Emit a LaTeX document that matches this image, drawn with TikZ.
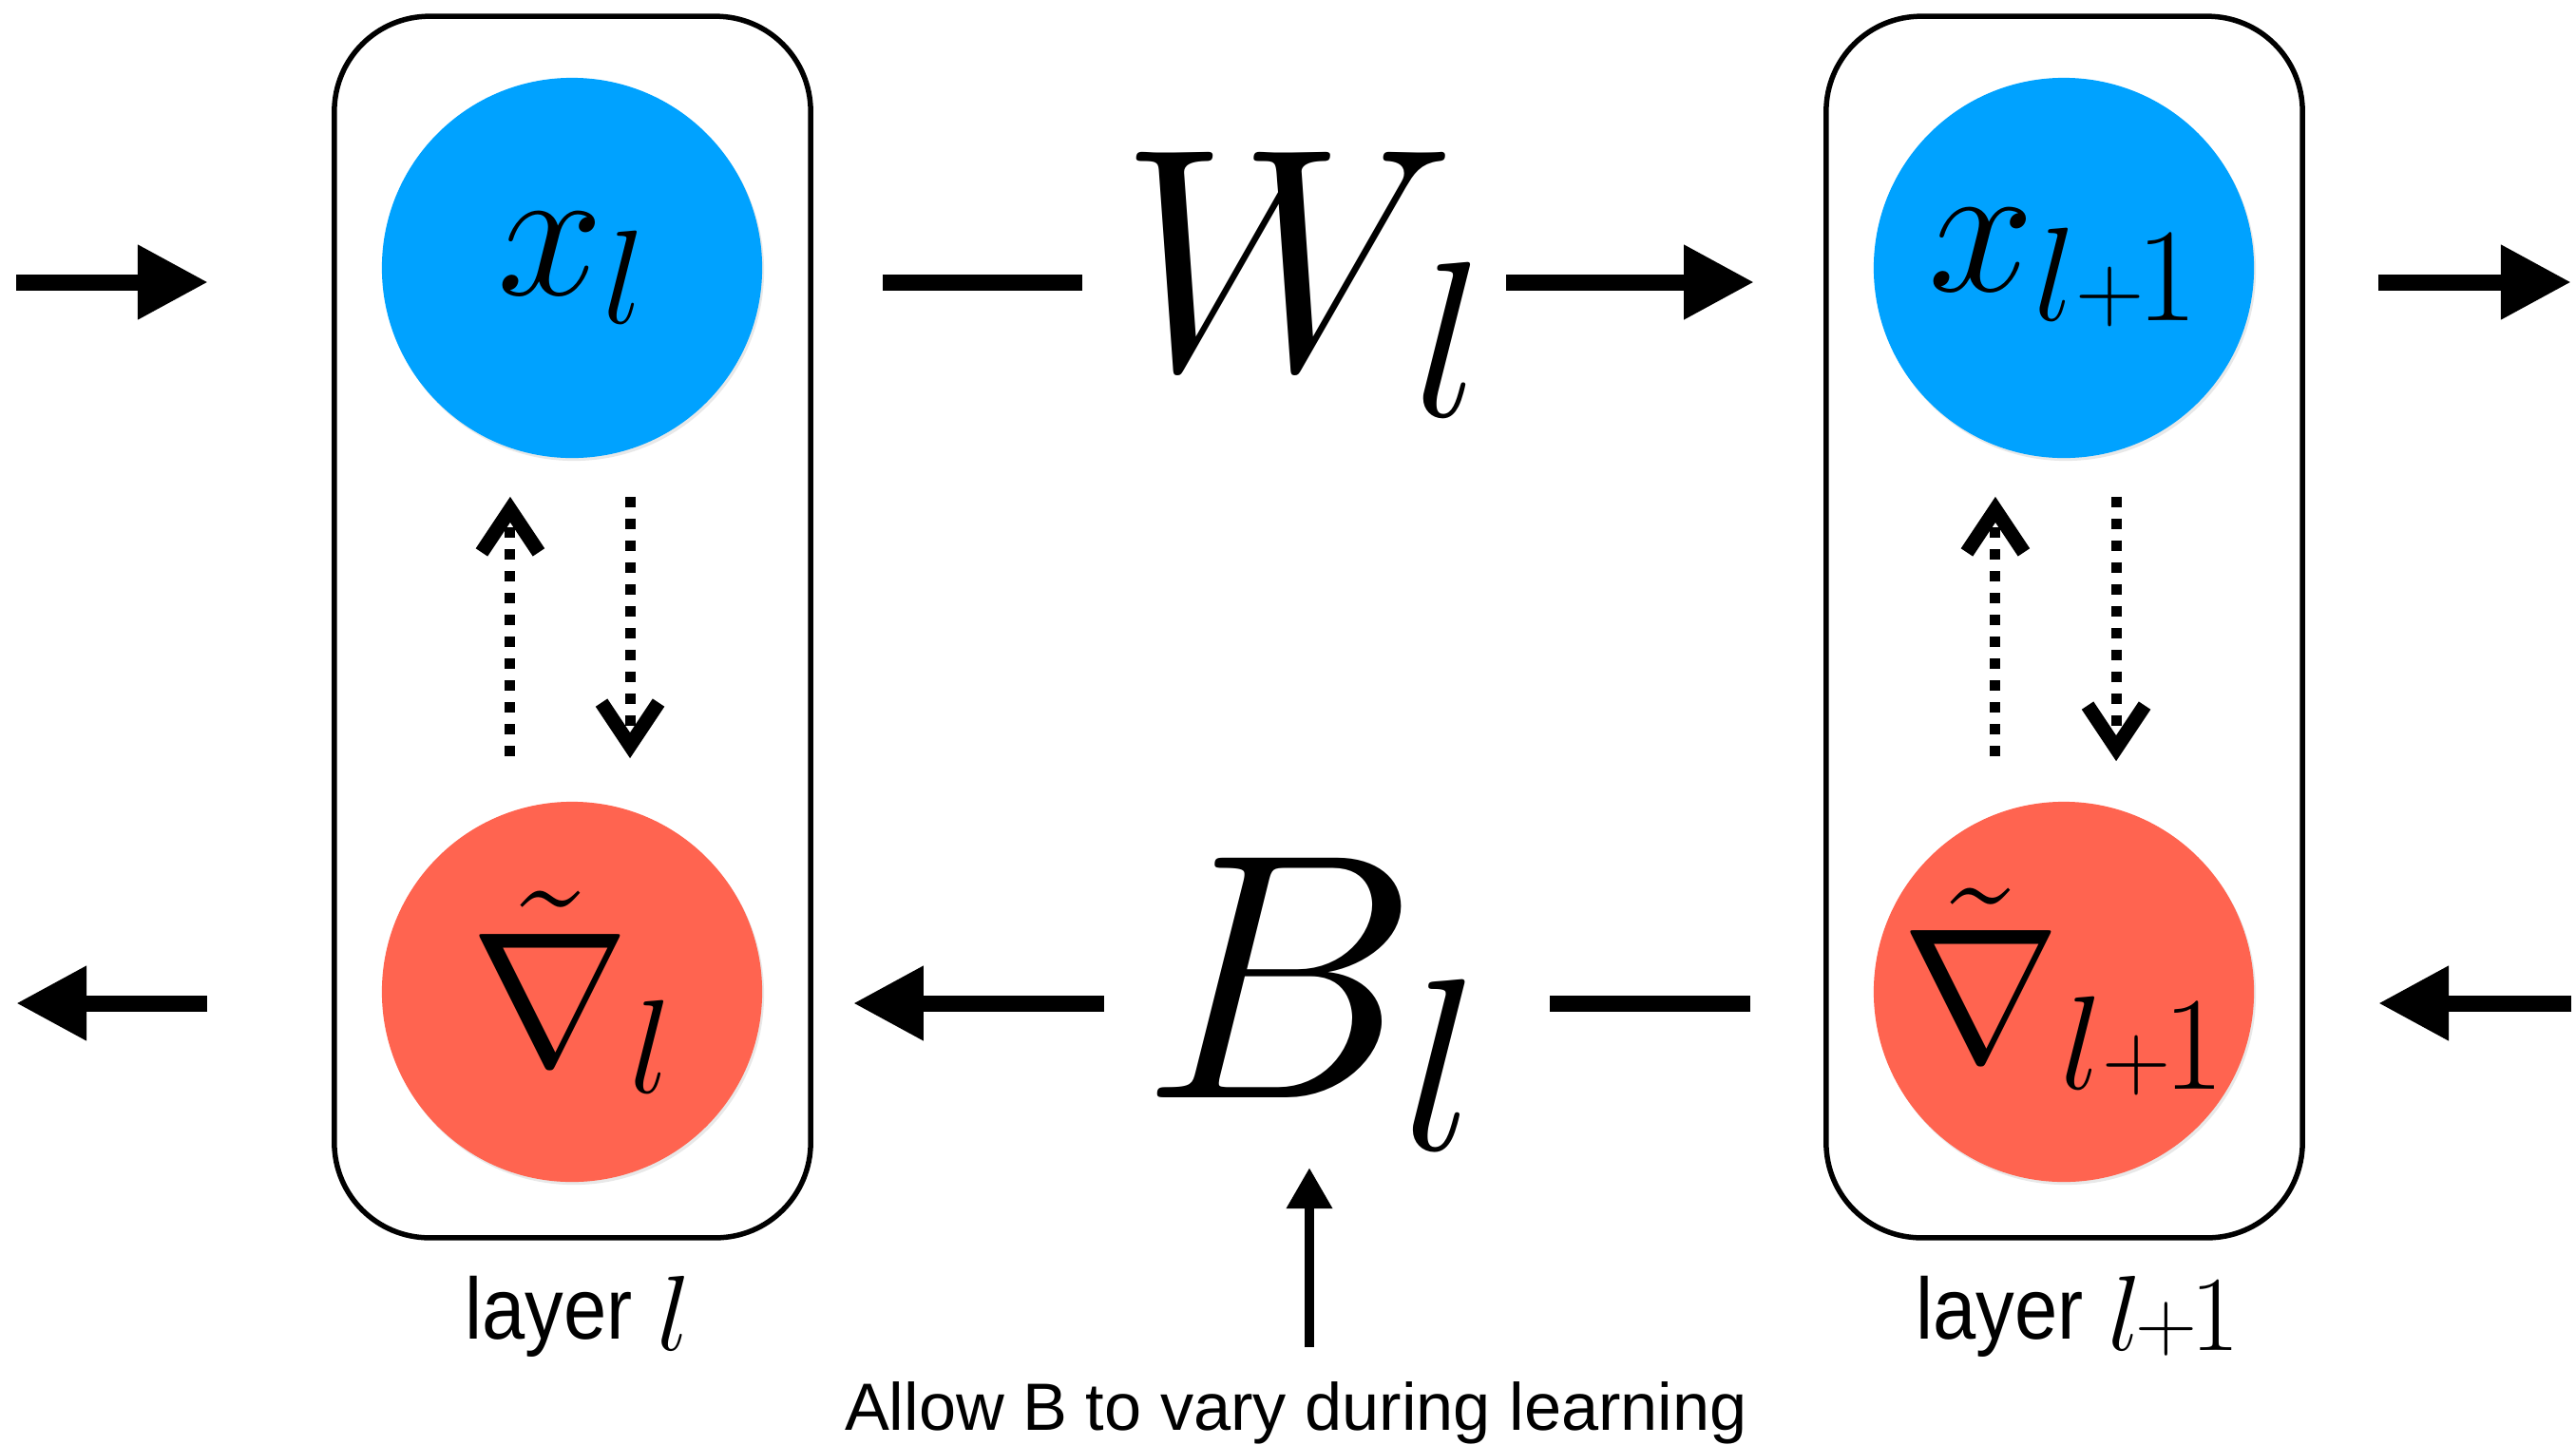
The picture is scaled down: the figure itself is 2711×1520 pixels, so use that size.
\RequirePackage{fix-cm}
\documentclass[tikz,border=0pt]{standalone}
\usepackage{graphicx}
\usepackage{fontspec}
\newfontfamily\labelfont{Liberation Sans}
\usetikzlibrary{arrows.meta,shadows}

\definecolor{fwdblue}{RGB}{0,162,255}
\definecolor{bwdred}{RGB}{255,100,80}

% tight "+1" as the reference sets it
\newcommand{\lplusone}{l{\scriptscriptstyle+}\mkern-1mu1}

\tikzset{
  layerbox/.style={draw, line width=0.055cm, rounded corners=1cm,
    minimum width=5.01cm, minimum height=12.85cm, inner sep=0pt},
  neuron/.style={circle, minimum size=4cm, inner sep=0pt,
    font=\fontsize{57}{57}\selectfont,
    drop shadow={shadow xshift=0.02cm, shadow yshift=-0.03cm, opacity=0.18}},
  bigsym/.style={inner sep=0pt, anchor=base west},
  flow/.style={line width=0.17cm},
  flowarrow/.style={flow, -{Triangle[length=0.74cm, width=0.74cm]}},
  feedback/.style={line width=0.11cm, dash pattern=on 0.11cm off 0.12cm,
    -{Straight Barb[length=0.45cm, width=0.6cm, line width=0.15cm]}},
  varyarrow/.style={line width=0.1cm, -{Triangle[length=0.43cm, width=0.46cm]}},
  layerlabel/.style={inner sep=0pt, anchor=base, font=\labelfont\fontsize{26}{26}\selectfont},
  notetext/.style={inner sep=0pt, anchor=base, font=\labelfont\fontsize{20}{20}\selectfont},
}

\begin{document}
\begin{tikzpicture}[x=0.01cm, y=-0.01cm]
  \fill[white] (0,0) rectangle (2711,1520);
  \useasboundingbox (0,0) rectangle (2711,1520);

  % --- layer l ---
  \node[layerbox] (boxl) at (602.5,660) {};
  \node[neuron, fill=fwdblue] (xl) at (602,282) {\makebox[0pt]{$x_l$}};
  \node[neuron, fill=bwdred] (gl) at (602,1044) {\makebox[0pt]{$\tilde{\nabla}_l$}};
  \node[layerlabel] (labl) at (608,1409)
    {\scalebox{0.89}[1]{layer} \raisebox{-0.12cm}{\fontsize{32}{32}\selectfont$l$}};

  % --- layer l+1 ---
  \node[layerbox] (boxr) at (2172.5,660) {};
  \node[neuron, fill=fwdblue] (xn) at (2172,282) {\makebox[0pt]{$x_{\lplusone}$}};
  \node[neuron, fill=bwdred] (gn) at (2172,1044) {\makebox[0pt]{$\tilde{\nabla}_{\lplusone}$}};
  \node[layerlabel] (labr) at (2187,1409)
    {\scalebox{0.89}[1]{layer} \raisebox{-0.12cm}{\fontsize{32}{32}\selectfont$l\mkern-1mu\mbox{\scalebox{0.8}{$+$}}\mkern-1mu1$}};

  % --- weights ---
  \node[bigsym, font=\fontsize{95}{95}\selectfont] (wl) at (1178,388) {$W_l$};
  \node[bigsym, font=\fontsize{105}{105}\selectfont] (bl) at (1200,1155) {$B_l$};
  \node[notetext] (note) at (1364,1505) {Allow B to vary during learning};

  % --- free ends ---
  \coordinate (inl) at (17,297);
  \coordinate (outr) at (2706,297);
  \coordinate (outl) at (17,1056);
  \coordinate (inr) at (2706,1056);
  \coordinate (vary) at (1378,1418);

  % --- forward pass ---
  \draw[flowarrow, shorten >=1.3cm] (inl) -- (inl -| boxl.west);
  \draw[flow, shorten <=1.26cm, shorten >=0.39cm] (xl.east |- inl) -- (wl.west |- inl);
  \draw[flowarrow, shorten <=0.22cm, shorten >=1.25cm] (wl.east |- inl) -- (xn.west |- inl);
  \draw[flowarrow, shorten <=0.77cm] (boxr.east |- outr) -- (outr);

  % --- backward pass ---
  \draw[flowarrow, shorten >=0.77cm] (inr) -- (inr -| boxr.east);
  \draw[flow, shorten <=1.29cm, shorten >=0.72cm] (gn.west |- inr) -- (bl.east |- inr);
  \draw[flowarrow, shorten <=0.38cm, shorten >=0.95cm] (bl.west |- outl) -- (gl.east |- outl);
  \draw[flowarrow, shorten <=1.31cm] (boxl.west |- outl) -- (outl);

  % --- inside the layers ---
  \draw[feedback, shorten <=0.47cm, shorten >=0.4cm] ([xshift=-0.65cm]gl.north) -- ([xshift=-0.65cm]xl.south);
  \draw[feedback, shorten <=0.4cm, shorten >=0.45cm] ([xshift=0.61cm]xl.south) -- ([xshift=0.61cm]gl.north);
  \draw[feedback, shorten <=0.47cm, shorten >=0.4cm] ([xshift=-0.72cm]gn.north) -- ([xshift=-0.72cm]xn.south);
  \draw[feedback, shorten <=0.4cm, shorten >=0.42cm] ([xshift=0.55cm]xn.south) -- ([xshift=0.55cm]gn.north);

  % --- B varies ---
  \draw[varyarrow, shorten >=0.18cm] (vary) -- (vary |- bl.south);

\end{tikzpicture}
\end{document}
